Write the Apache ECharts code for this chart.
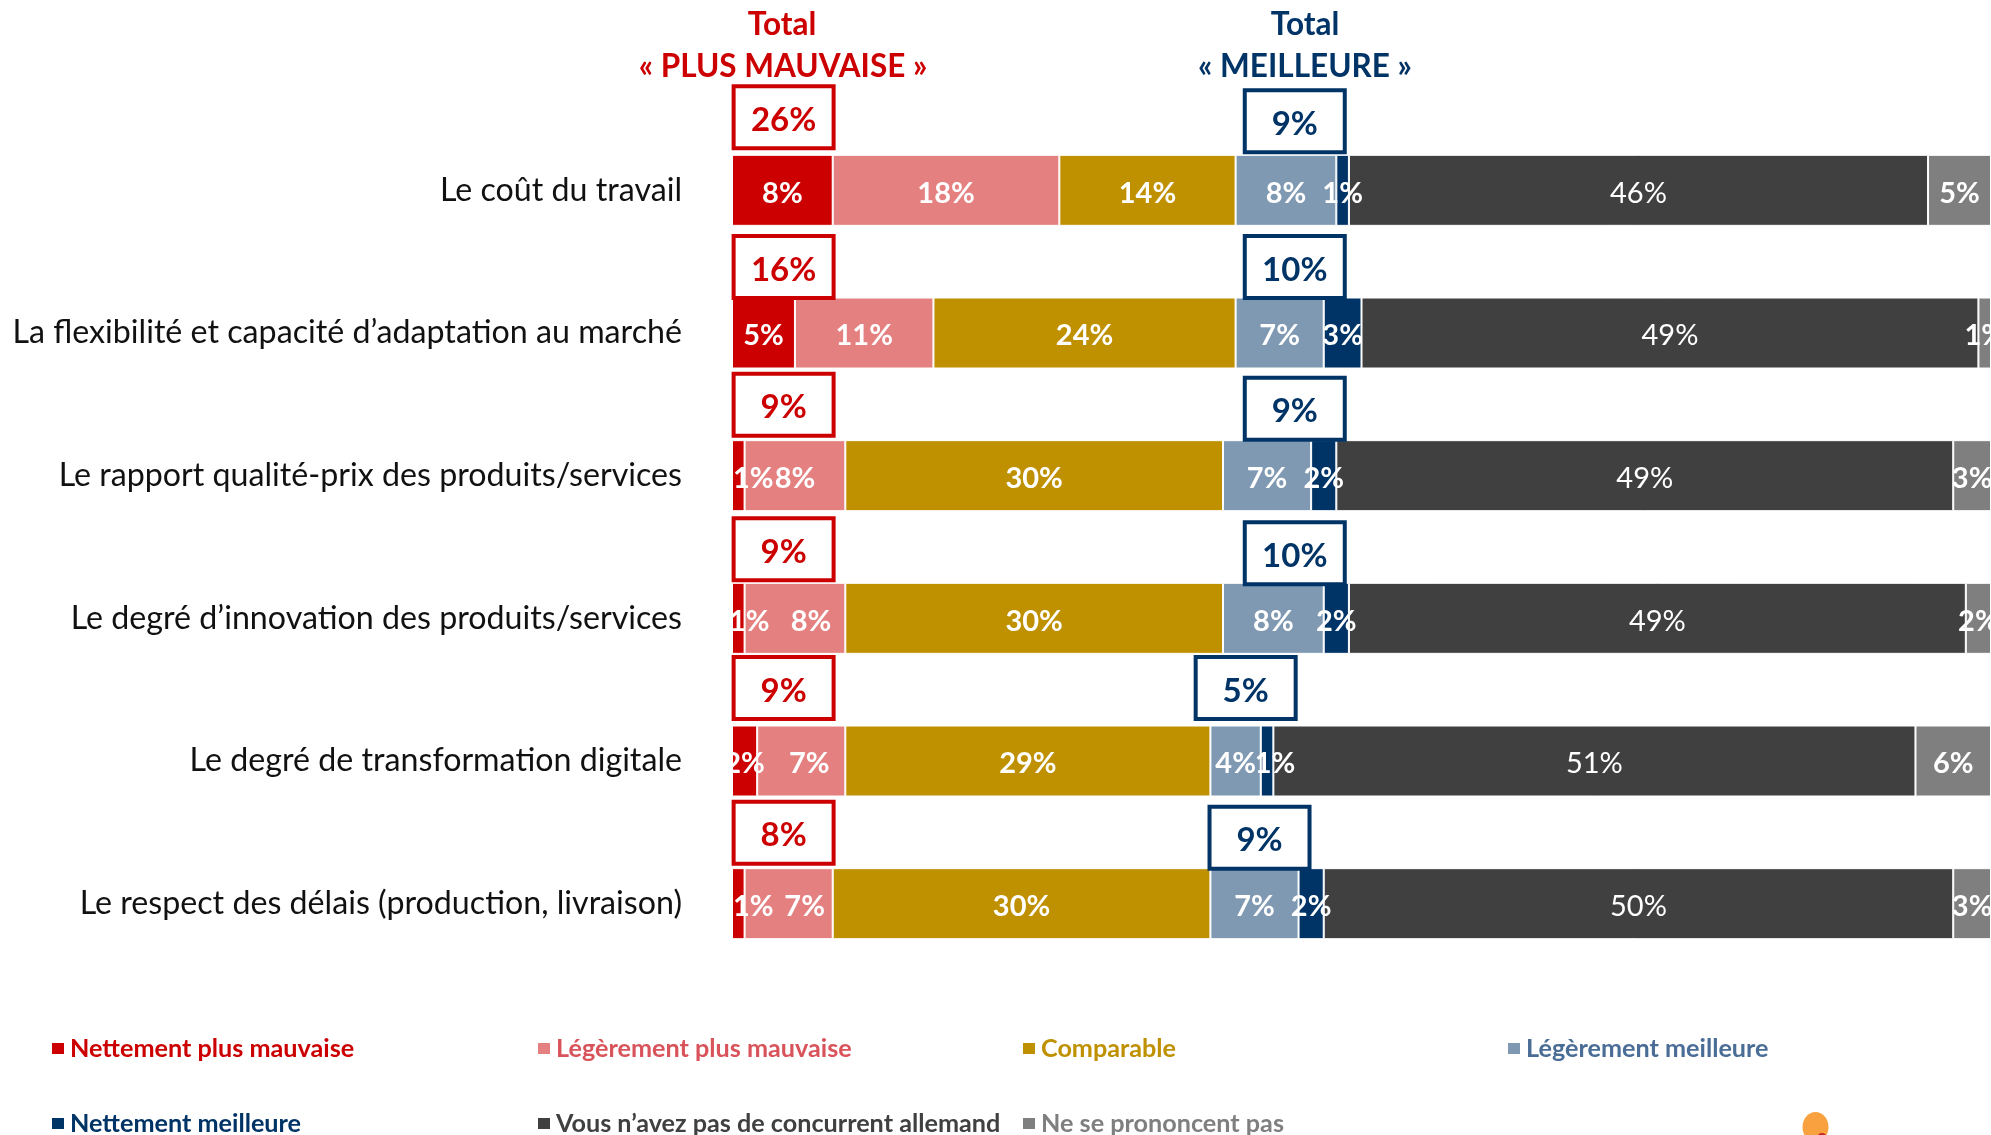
<!DOCTYPE html>
<html><head><meta charset="utf-8">
<style>html,body{margin:0;padding:0;background:#fff;overflow:hidden}#c{width:1991px;height:1135px}</style>
<script src="https://cdn.jsdelivr.net/npm/echarts@6/dist/echarts.min.js"></script>
</head><body><div id="c"></div>
<script>
const categories = ["Le coût du travail","La flexibilité et capacité d’adaptation au marché","Le rapport qualité-prix des produits/services","Le degré d’innovation des produits/services","Le degré de transformation digitale","Le respect des délais (production, livraison)"];
const nettementPlusMauvaise = [8,5,1,1,2,1];
const legerementPlusMauvaise = [18,11,8,8,7,7];
const comparable = [14,24,30,30,29,30];
const legerementMeilleure = [8,7,7,8,4,7];
const nettementMeilleure = [1,3,2,2,1,2];
const pasDeConcurrent = [46,49,49,49,51,50];
const neSePrononcentPas = [5,1,3,2,6,3];
const totalPlusMauvaise = [26,16,9,9,9,8];
const totalMeilleure = [9,10,9,10,5,9];

const FONT = 'Lato, "Open Sans", sans-serif';
const seriesDefs = [
  {name:"Nettement plus mauvaise", values:nettementPlusMauvaise, color:"#cc0000", text:"#cc0000", bold:true, nudge:[0,0,15,11,0,15]},
  {name:"Légèrement plus mauvaise", values:legerementPlusMauvaise, color:"#e58080", text:"#d9535b", bold:true, nudge:[0,0,0,16,8,16]},
  {name:"Comparable", values:comparable, color:"#bf9000", text:"#bf9000", bold:true, nudge:[0,0,0,0,0,0]},
  {name:"Légèrement meilleure", values:legerementMeilleure, color:"#7f99b2", text:"#4a6d96", bold:true, nudge:[0,0,0,0,0,0]},
  {name:"Nettement meilleure", values:nettementMeilleure, color:"#003366", text:"#003366", bold:true, nudge:[0,0,0,0,8,0]},
  {name:"Vous n’avez pas de concurrent allemand", values:pasDeConcurrent, color:"#404040", text:"#404040", bold:false, nudge:[0,0,0,0,0,0]},
  {name:"Ne se prononcent pas", values:neSePrononcentPas, color:"#7f7f7f", text:"#7f7f7f", bold:true, nudge:[0,0,0,0,0,0]}
];
const legendPos = [[50,1036],[536,1036],[1021,1036],[1506,1036],[50,1111],[536,1111],[1021,1111]];

const barSeries = seriesDefs.map(d => ({
  name:d.name, type:'bar', stack:'t', barWidth:71,
  itemStyle:{color:d.color, borderColor:'#fff', borderWidth:1},
  label:{show:true, position:'inside', color:'#fff', fontFamily:FONT, fontSize:29, fontWeight:d.bold?'bold':'normal', formatter:p=>p.value+'%'},
  emphasis:{disabled:true},
  data:d.values.map((v,i)=>({value:v, label:{offset:[d.nudge[i],3]}}))
}));

function boxSeries(name, totals, color, xs, dy){
  return {
    name, type:'custom', z:5, silent:true,
    data:totals.map((v,i)=>[xs[i], i, v, dy[i]]),
    encode:{x:0,y:1},
    renderItem(params, api){
      const p = api.coord([api.value(0), api.value(1)]);
      const cy = p[1] + api.value(3);
      return {type:'group', children:[
        {type:'rect', shape:{x:p[0]-50, y:cy-31, width:100, height:62}, style:{fill:'#fff', stroke:color, lineWidth:4}},
        {type:'text', style:{x:p[0], y:cy+3, text:api.value(2)+'%', fill:color, font:'bold 33px '+FONT, align:'center', verticalAlign:'middle'}}
      ]};
    }
  };
}
const worseBoxX = [4.1,4.1,4.1,4.1,4.1,4.1];
const betterBoxX = [44.7,44.7,44.7,44.7,40.8,41.9];
const worseBoxDy = [-73,-66,-71,-69,-73,-71];
const betterBoxDy = [-69,-66,-67,-65,-73,-66];

const chart = echarts.init(document.getElementById('c'), null, {renderer:'canvas'});
chart.setOption({
  animation:false,
  backgroundColor:'#fff',
  grid:{left:732, top:119, width:1261, height:856, containLabel:false},
  xAxis:{type:'value', min:0, max:100, show:false},
  yAxis:{type:'category', inverse:true, data:categories,
    axisLine:{show:false}, axisTick:{show:false},
    axisLabel:{margin:50, color:'#111', fontFamily:FONT, fontSize:32.2}},
  legend:seriesDefs.map((d,i)=>({
    data:[{name:d.name, icon:'rect'}], left:legendPos[i][0], top:legendPos[i][1], padding:0,
    itemWidth:14, itemHeight:13, itemGap:7, selectedMode:false,
    textStyle:{color:d.text, fontFamily:FONT, fontSize:25.2, fontWeight:'bold'}
  })),
  series:[...barSeries,
    boxSeries('Total plus mauvaise', totalPlusMauvaise, '#cc0000', worseBoxX, worseBoxDy),
    boxSeries('Total meilleure', totalMeilleure, '#003366', betterBoxX, betterBoxDy)],
  graphic:[
    {type:'text', x:782, y:25, style:{text:'Total', fill:'#cc0000', font:'bold 31.5px '+FONT, align:'center', verticalAlign:'middle'}},
    {type:'text', x:783, y:67, style:{text:'« PLUS MAUVAISE »', fill:'#cc0000', font:'bold 31.5px '+FONT, align:'center', verticalAlign:'middle'}},
    {type:'text', x:1305, y:25, style:{text:'Total', fill:'#003366', font:'bold 31.5px '+FONT, align:'center', verticalAlign:'middle'}},
    {type:'text', x:1305, y:67, style:{text:'« MEILLEURE »', fill:'#003366', font:'bold 31.5px '+FONT, align:'center', verticalAlign:'middle'}},
    {type:'ellipse', shape:{cx:1815.5,cy:1127,rx:13,ry:15}, style:{fill:'#f9a03f'}},
    {type:'circle', shape:{cx:1822,cy:1138,r:5}, style:{fill:'#c8281e'}}
  ]
});
</script></body></html>
